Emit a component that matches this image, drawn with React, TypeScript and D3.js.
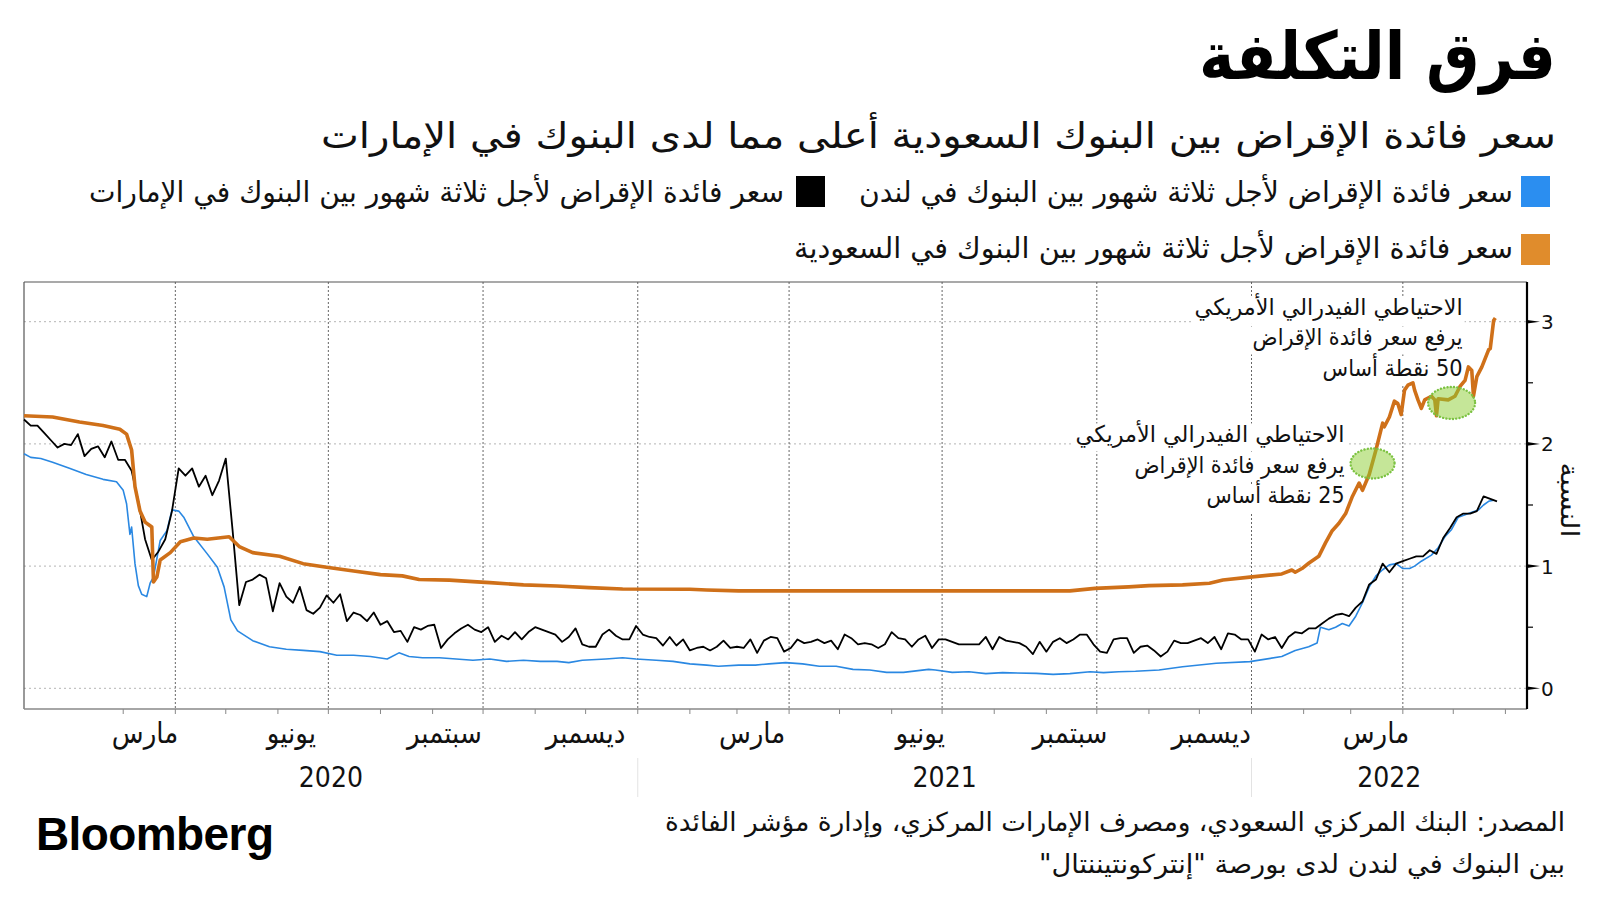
import React from "react";
import * as d3 from "d3";

// ---------------- DATA ----------------
const START_DATE = new Date(2020, 0, 2);
const END_DAY = 876; // 2022-05-27

// LIBOR 3M (blue): [days since 2020-01-02, %]
const liborPoints: [number, number][] = [
  [0, 1.92], [4, 1.89], [10, 1.88], [17, 1.85], [27, 1.8], [37, 1.75], [47, 1.71], [55, 1.69], [59, 1.62], [61, 1.51],
  [63, 1.26], [64, 1.32], [66, 1.02], [68, 0.84], [70, 0.77], [73, 0.75], [75, 0.86], [77, 0.91], [81, 1.21], [85, 1.29],
  [88, 1.46], [92, 1.45], [95, 1.4], [101, 1.24], [109, 1.1], [115, 0.99], [119, 0.83], [123, 0.56], [127, 0.47], [136, 0.39],
  [146, 0.34], [156, 0.32], [166, 0.31], [176, 0.3], [186, 0.27], [196, 0.27], [206, 0.26], [216, 0.24], [223, 0.29], [229, 0.26],
  [237, 0.25], [247, 0.25], [257, 0.24], [267, 0.23], [277, 0.24], [287, 0.22], [297, 0.23], [307, 0.22], [317, 0.22], [324, 0.21],
  [332, 0.23], [346, 0.24], [356, 0.25], [364, 0.24], [376, 0.23], [386, 0.22], [396, 0.2], [406, 0.19], [413, 0.18], [425, 0.19],
  [435, 0.19], [443, 0.2], [453, 0.21], [463, 0.2], [473, 0.18], [483, 0.18], [493, 0.155], [503, 0.15], [513, 0.13], [523, 0.13],
  [538, 0.155], [542, 0.15], [552, 0.13], [562, 0.135], [572, 0.12], [582, 0.128], [602, 0.122], [612, 0.114], [622, 0.12], [634, 0.136],
  [642, 0.128], [651, 0.136], [661, 0.14], [675, 0.15], [689, 0.177], [709, 0.205], [729, 0.218], [748, 0.26], [756, 0.31], [764, 0.34],
  [769, 0.37], [771, 0.5], [776, 0.48], [780, 0.5], [784, 0.53], [788, 0.51], [792, 0.59], [796, 0.7], [800, 0.83], [804, 0.92],
  [808, 0.97], [812, 1.01], [816, 1.02], [820, 0.98], [824, 0.98], [827, 1.0], [831, 1.04], [837, 1.09], [841, 1.15], [845, 1.24],
  [849, 1.3], [853, 1.4], [857, 1.42], [861, 1.44], [865, 1.46], [868, 1.5], [871, 1.53], [874, 1.54],
];

// SAIBOR 3M (orange): [days since 2020-01-02, %]
const saiborPoints: [number, number][] = [
  [0, 2.23], [17, 2.22], [33, 2.18], [47, 2.15], [57, 2.12], [61, 2.08], [64, 1.95], [66, 1.65], [69, 1.45], [72, 1.36],
  [75, 1.33], [76, 1.32], [77, 0.87], [79, 0.91], [81, 1.05], [87, 1.11], [93, 1.2], [101, 1.23], [109, 1.22], [122, 1.24],
  [128, 1.16], [136, 1.11], [152, 1.08], [166, 1.02], [180, 0.99], [196, 0.96], [212, 0.93], [225, 0.92], [235, 0.89], [253, 0.885],
  [267, 0.873], [277, 0.865], [297, 0.846], [317, 0.837], [336, 0.824], [356, 0.813], [396, 0.81], [406, 0.805], [425, 0.797], [449, 0.797],
  [622, 0.797], [637, 0.818], [657, 0.83], [669, 0.84], [689, 0.846], [705, 0.86], [713, 0.886], [729, 0.91], [748, 0.936], [754, 0.968],
  [756, 0.95], [760, 0.98], [764, 1.023], [770, 1.08], [774, 1.19], [778, 1.29], [782, 1.35], [786, 1.43], [790, 1.57], [794, 1.68],
  [796, 1.62], [800, 1.75], [804, 1.95], [808, 2.17], [809, 2.14], [812, 2.22], [815, 2.35], [817, 2.33], [819, 2.24], [821, 2.44],
  [823, 2.48], [826, 2.5], [827, 2.44], [829, 2.36], [831, 2.29], [833, 2.36], [837, 2.39], [839, 2.36], [840, 2.23], [841, 2.37],
  [847, 2.36], [851, 2.39], [854, 2.47], [857, 2.52], [859, 2.63], [861, 2.6], [862, 2.39], [864, 2.55], [867, 2.63], [871, 2.77],
  [872, 2.78], [874, 3.01], [875, 3.03],
];

// EIBOR 3M (black): one value every 4 days from 2020-01-02
const EIBOR_STEP_DAYS = 4;
const eiborValues: number[] = [
  2.2, 2.15, 2.15, 2.09, 2.03, 1.97, 2.0, 1.99, 2.08, 1.9,
  1.96, 1.98, 1.89, 2.02, 1.87, 1.87, 1.78, 1.53, 1.22, 1.05,
  1.12, 1.22, 1.45, 1.8, 1.74, 1.8, 1.65, 1.74, 1.58, 1.7,
  1.88, 1.3, 0.68, 0.87, 0.89, 0.93, 0.9, 0.63, 0.86, 0.75,
  0.7, 0.83, 0.64, 0.61, 0.66, 0.76, 0.7, 0.77, 0.55, 0.62,
  0.6, 0.55, 0.62, 0.52, 0.55, 0.46, 0.47, 0.38, 0.5, 0.48,
  0.51, 0.52, 0.33, 0.4, 0.45, 0.49, 0.52, 0.48, 0.46, 0.5,
  0.38, 0.43, 0.4, 0.46, 0.4, 0.46, 0.5, 0.48, 0.46, 0.44,
  0.38, 0.42, 0.49, 0.36, 0.34, 0.34, 0.44, 0.48, 0.43, 0.4,
  0.4, 0.51, 0.44, 0.42, 0.41, 0.35, 0.42, 0.35, 0.4, 0.31,
  0.33, 0.34, 0.31, 0.34, 0.39, 0.33, 0.34, 0.33, 0.4, 0.29,
  0.39, 0.42, 0.41, 0.3, 0.33, 0.4, 0.37, 0.38, 0.4, 0.37,
  0.39, 0.32, 0.44, 0.41, 0.36, 0.37, 0.36, 0.33, 0.36, 0.46,
  0.41, 0.4, 0.34, 0.4, 0.43, 0.33, 0.4, 0.4, 0.38, 0.36,
  0.36, 0.36, 0.36, 0.42, 0.32, 0.42, 0.39, 0.38, 0.37, 0.34,
  0.28, 0.38, 0.3, 0.38, 0.41, 0.37, 0.4, 0.44, 0.44, 0.36,
  0.3, 0.29, 0.4, 0.41, 0.41, 0.29, 0.34, 0.35, 0.31, 0.26,
  0.3, 0.39, 0.37, 0.37, 0.39, 0.41, 0.37, 0.42, 0.32, 0.45,
  0.44, 0.4, 0.4, 0.3, 0.44, 0.4, 0.42, 0.33, 0.42, 0.46,
  0.45, 0.49, 0.49, 0.53, 0.57, 0.6, 0.61, 0.59, 0.66, 0.71,
  0.85, 0.89, 1.02, 0.95, 1.02, 1.04, 1.06, 1.08, 1.08, 1.13,
  1.1, 1.23, 1.31, 1.4, 1.43, 1.43, 1.45, 1.57, 1.55, 1.53,
];

const yTicks = [0, 1, 2, 3];
const yMinorTicks = [0.5, 1.5, 2.5];
const monthLabels = ["مارس", "يونيو", "سبتمبر", "ديسمبر", "مارس", "يونيو", "سبتمبر", "ديسمبر", "مارس"];
const monthLabelDates = [
  "2020-03-14", "2020-06-09", "2020-09-08", "2020-12-01", "2021-03-10",
  "2021-06-18", "2021-09-15", "2021-12-08", "2022-03-16",
];
const yearLabels = ["2020", "2021", "2022"];

const titleText = "فرق التكلفة";
const subtitleText = "سعر فائدة الإقراض بين البنوك السعودية أعلى مما لدى البنوك في الإمارات";
const legendLabels = [
  "سعر فائدة الإقراض لأجل ثلاثة شهور بين البنوك في لندن",
  "سعر فائدة الإقراض لأجل ثلاثة شهور بين البنوك في الإمارات",
  "سعر فائدة الإقراض لأجل ثلاثة شهور بين البنوك في السعودية",
];
const yAxisTitle = "النسبة";
const sourceLines = [
  "المصدر: البنك المركزي السعودي، ومصرف الإمارات المركزي، وإدارة مؤشر الفائدة",
  "بين البنوك في لندن لدى بورصة \"إنتركونتيننتال\"",
];

const fedHikeDays = [802, 849];
const fedHikeValues = [1.84, 2.335];
const fedHikeLines = [
  ["الاحتياطي الفيدرالي الأمريكي", "يرفع سعر فائدة الإقراض", "25 نقطة أساس"],
  ["الاحتياطي الفيدرالي الأمريكي", "يرفع سعر فائدة الإقراض", "50 نقطة أساس"],
];

// ---------------- STYLE ----------------
const AR_FONT = "'DejaVu Sans Condensed','DejaVu Sans',sans-serif";
const BLUE = "#2a88e2";
const BLUE_KEY = "#2b8ef0";
const ORANGE = "#cf7019";
const ORANGE_KEY = "#e08c2c";

type ArProps = {
  x: number;
  y: number;
  size: number;
  width?: number;
  weight?: string | number;
  fill?: string;
  children: string;
};

function ArText({ x, y, size, width, weight = "normal", fill = "#111", children }: ArProps) {
  return (
    <text
      x={x}
      y={y}
      direction="rtl"
      textAnchor="start"
      fontFamily={AR_FONT}
      fontSize={size}
      fontWeight={weight}
      fill={fill}
      {...(width ? { textLength: width, lengthAdjust: "spacingAndGlyphs" } : {})}
    >
      {children}
    </text>
  );
}

export default function App() {
  const L = 24, R = 1527, T = 282, B = 709;
  const parse = d3.timeParse("%Y-%m-%d");
  const dayDate = (d: number) => d3.timeDay.offset(START_DATE, d);

  const x = d3.scaleTime().domain([START_DATE, dayDate(END_DAY)]).range([24, 1497]);
  const y = d3.scaleLinear().domain([0, 3]).range([688.3, 321.7]);

  const line = d3
    .line<[number, number]>()
    .x((p) => x(dayDate(p[0])))
    .y((p) => y(p[1]))
    .curve(d3.curveLinear);

  const eiborPoints: [number, number][] = eiborValues.map((v, i) => [i * EIBOR_STEP_DAYS, v]);

  const quarterLines = d3.timeMonth.range(new Date(2020, 3, 1), new Date(2022, 4, 1), 3);
  const monthTicks = d3.timeMonth.range(new Date(2020, 2, 1), new Date(2022, 6, 1));
  const yearStarts = [new Date(2021, 0, 1), new Date(2022, 0, 1)];
  const yearSpans = [
    [L, x(yearStarts[0])],
    [x(yearStarts[0]), x(yearStarts[1])],
    [x(yearStarts[1]), R],
  ];

  // annotation layout (offsets from the circled point)
  const annLayout = [
    { dx: -28, dy: -21, widths: [269, 210, 138] },
    { dx: 11, dy: -88, widths: [268, 210, 140] },
  ];
  const annSize = 23;
  const annGap = 30.5;

  return (
    <div style={{ position: "absolute", left: 0, top: 0, width: 1600, height: 900, background: "#fff" }}>
      <svg width={1600} height={900} viewBox="0 0 1600 900" style={{ display: "block" }}>
        <rect x={0} y={0} width={1600} height={900} fill="#fff" />

        {/* Title */}
        <ArText x={1556} y={79} size={66} weight="bold" width={357} fill="#000">
          {titleText}
        </ArText>
        <ArText x={1556} y={148} size={36} width={1235} fill="#111">
          {subtitleText}
        </ArText>

        {/* Legend */}
        <rect x={1521} y={176} width={29} height={31} fill={BLUE_KEY} />
        <ArText x={1513} y={202} size={29} width={654}>{legendLabels[0]}</ArText>
        <rect x={796} y={176} width={29} height={31} fill="#000" />
        <ArText x={784} y={202} size={29} width={695}>{legendLabels[1]}</ArText>
        <rect x={1521} y={234} width={29} height={31} fill={ORANGE_KEY} />
        <ArText x={1513} y={258} size={29} width={719}>{legendLabels[2]}</ArText>

        {/* Grid */}
        {yTicks.map((t) => (
          <line key={"hg" + t} x1={L} x2={R} y1={y(t)} y2={y(t)} stroke="#b4b4b4" strokeWidth={1} strokeDasharray="2,3" />
        ))}
        {quarterLines.map((d, i) => (
          <line key={"vg" + i} x1={x(d)} x2={x(d)} y1={T} y2={B} stroke="#666" strokeWidth={1} strokeDasharray="2,2" />
        ))}

        {/* Frame */}
        <line x1={L} x2={R} y1={T} y2={T} stroke="#555" strokeWidth={1.2} />
        <line x1={L} x2={L} y1={T} y2={B} stroke="#555" strokeWidth={1.2} />
        <line x1={L} x2={R} y1={B} y2={B} stroke="#888" strokeWidth={1.5} />

        {/* Annotation text (with white boxes) */}
        {fedHikeDays.map((d, k) => {
          const cx = x(dayDate(d));
          const cy = y(fedHikeValues[k]);
          const lay = annLayout[k];
          const right = cx + lay.dx;
          return (
            <g key={"ann" + k}>
              {fedHikeLines[k].map((ln, j) => {
                const by = cy + lay.dy + j * annGap;
                return (
                  <g key={j}>
                    <rect x={right - lay.widths[j] - 2} y={by - 19} width={lay.widths[j] + 4} height={28} fill="#fff" />
                    <ArText x={right} y={by} size={annSize} width={lay.widths[j]} fill="#111">
                      {ln}
                    </ArText>
                  </g>
                );
              })}
            </g>
          );
        })}

        {/* Series */}
        <path d={line(liborPoints) || ""} fill="none" stroke={BLUE} strokeWidth={1.6} strokeLinejoin="round" />
        <path d={line(eiborPoints) || ""} fill="none" stroke="#000" strokeWidth={1.8} strokeLinejoin="round" />
        <path d={line(saiborPoints) || ""} fill="none" stroke={ORANGE} strokeWidth={3.6} strokeLinejoin="round" />

        {/* Highlight ellipses */}
        {fedHikeDays.map((d, k) => (
          <ellipse
            key={"el" + k}
            cx={x(dayDate(d))}
            cy={y(fedHikeValues[k])}
            rx={k === 0 ? 22 : 23.5}
            ry={k === 0 ? 15 : 16}
            fill="rgba(140,205,50,0.5)"
            stroke="#7cc242"
            strokeWidth={2.4}
            strokeDasharray="0.1,3.2"
            strokeLinecap="round"
          />
        ))}

        {/* Right axis */}
        <line x1={R} x2={R} y1={T} y2={B} stroke="#000" strokeWidth={2.2} />
        {yTicks.map((t) => (
          <g key={"yt" + t}>
            <path d={`M${R},${y(t) - 1.8} L${R + 13},${y(t)} L${R},${y(t) + 1.8} Z`} fill="#000" />
            <text x={1541} y={y(t) + 7.5} fontFamily="'DejaVu Sans',sans-serif" fontSize={20} fill="#111">
              {String(t)}
            </text>
          </g>
        ))}
        {yMinorTicks.map((t) => (
          <line key={"ym" + t} x1={R} x2={R + 6} y1={y(t)} y2={y(t)} stroke="#000" strokeWidth={1.2} />
        ))}
        <text
          transform={`translate(1561,500) rotate(90)`}
          textAnchor="middle"
          fontFamily={AR_FONT}
          fontSize={25}
          fill="#111"
          textLength={75}
          lengthAdjust="spacingAndGlyphs"
        >
          {yAxisTitle}
        </text>

        {/* Bottom axis ticks */}
        {monthTicks.map((d, i) => (
          <line key={"mt" + i} x1={x(d)} x2={x(d)} y1={B} y2={B + 5} stroke="#888" strokeWidth={1} />
        ))}
        {monthLabels.map((m, i) => (
          <text
            key={"ml" + i}
            x={x(parse(monthLabelDates[i]) as Date)}
            y={743}
            textAnchor="middle"
            fontFamily={AR_FONT}
            fontSize={29}
            fill="#111"
          >
            {m}
          </text>
        ))}
        {yearStarts.map((d, i) => (
          <line key={"ys" + i} x1={x(d)} x2={x(d)} y1={758} y2={797} stroke="#e3e3e3" strokeWidth={1} />
        ))}
        {yearLabels.map((yl, i) => (
          <text
            key={"yl" + i}
            x={(yearSpans[i][0] + yearSpans[i][1]) / 2}
            y={787}
            textAnchor="middle"
            fontFamily={AR_FONT}
            fontSize={28}
            fill="#111"
          >
            {yl}
          </text>
        ))}

        {/* Footer */}
        <text x={36} y={850} fontFamily="'Liberation Sans',Arial,sans-serif" fontWeight="bold" fontSize={46} letterSpacing={-0.6} fill="#000">
          Bloomberg
        </text>
        <ArText x={1565} y={831} size={26} width={900} fill="#111">{sourceLines[0]}</ArText>
        <ArText x={1565} y={873} size={26} width={526} fill="#111">{sourceLines[1]}</ArText>
      </svg>
    </div>
  );
}
